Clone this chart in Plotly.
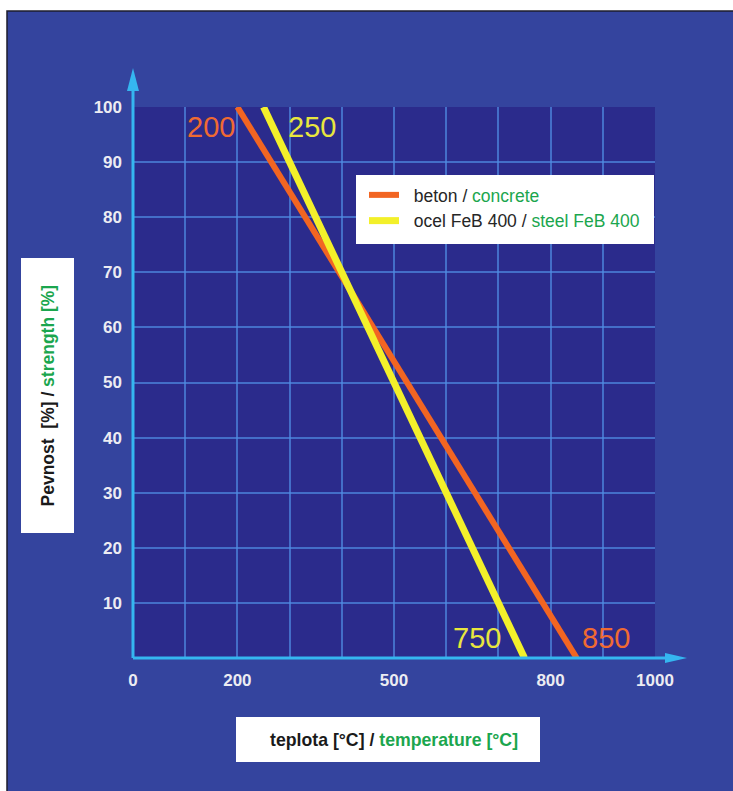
import plotly.graph_objects as go

# Strength loss of concrete and reinforcing steel with temperature
temperature_concrete = [200, 850]
strength_concrete = [100, 0]
temperature_steel = [250, 750]
strength_steel = [100, 0]

x_tick_vals = [0, 100, 200, 300, 400, 500, 600, 700, 800, 900, 1000]
x_tick_labels = ["0", "", "200", "", "", "500", "", "", "800", "", "1000"]
y_tick_vals = [10, 20, 30, 40, 50, 60, 70, 80, 90, 100]
y_tick_labels = ["10", "20", "30", "40", "50", "60", "70", "80", "90", "100"]

W, H = 733, 791
L, R, T, B = 133, 78, 107, 133
PW, PH = W - L - R, H - T - B

ORANGE = "#f26522"
YELLOW = "#f3f02a"
GREEN = "#1ba64e"
AXIS = "#35b6f0"
FONT = "Arial, Liberation Sans, sans-serif"


def px(xp):
    """pixel column -> paper x"""
    return (xp - L) / PW


def py(yp):
    """pixel row -> paper y"""
    return (H - B - yp) / PH


fig = go.Figure()

fig.add_trace(go.Scatter(
    x=temperature_concrete, y=strength_concrete, mode="lines",
    line=dict(color=ORANGE, width=6),
    name=f"&nbsp;&nbsp;beton / <span style='color:{GREEN}'>concrete</span>",
    legendgroup="a",
))
fig.add_trace(go.Scatter(
    x=temperature_steel, y=strength_steel, mode="lines",
    line=dict(color=YELLOW, width=7),
    name=f"&nbsp;&nbsp;ocel FeB 400 / <span style='color:{GREEN}'>steel FeB 400</span>",
    legendgroup="b",
))


def tri(points):
    p = [f"{px(a):.5f} {py(b):.5f}" for a, b in points]
    return "M " + " L ".join(p) + " Z"


shapes = [
    # outer blue panel
    dict(type="rect", xref="paper", yref="paper", layer="below",
         x0=px(7), x1=px(745), y0=py(800), y1=py(11),
         fillcolor="#34449e", line=dict(color="#1c1c2c", width=1.5)),
    # plot area
    dict(type="rect", xref="paper", yref="paper", layer="below",
         x0=0, x1=1, y0=0, y1=1, fillcolor="#2b2b8c", line=dict(width=0)),
    # axes with arrows
    dict(type="line", xref="paper", yref="paper", layer="above",
         x0=0, y0=0, x1=0, y1=py(86), line=dict(color=AXIS, width=3)),
    dict(type="path", xref="paper", yref="paper", layer="above",
         path=tri([(127, 91), (133, 68), (139, 91)]),
         fillcolor=AXIS, line=dict(width=0)),
    dict(type="line", xref="paper", yref="paper", layer="above",
         x0=0, y0=0, x1=px(670), y1=0, line=dict(color=AXIS, width=3)),
    dict(type="path", xref="paper", yref="paper", layer="above",
         path=tri([(665, 653), (687, 658), (665, 663)]),
         fillcolor=AXIS, line=dict(width=0)),
    # white boxes behind legend and axis titles
    dict(type="rect", xref="paper", yref="paper", layer="above",
         x0=px(356), x1=px(654), y0=py(244), y1=py(175),
         fillcolor="white", line=dict(width=0)),
    dict(type="rect", xref="paper", yref="paper", layer="above",
         x0=px(21), x1=px(74), y0=py(533), y1=py(258),
         fillcolor="white", line=dict(width=0)),
    dict(type="rect", xref="paper", yref="paper", layer="above",
         x0=px(236), x1=px(540), y0=py(762), y1=py(717),
         fillcolor="white", line=dict(width=0)),
]

label_font = dict(family=FONT, size=29)
annotations = [
    dict(x=temperature_concrete[0], y=strength_concrete[0], text=str(temperature_concrete[0]),
         showarrow=False, xanchor="right", yanchor="middle", xshift=0, yshift=-20,
         font=dict(label_font, color="#f06a32")),
    dict(x=temperature_steel[0], y=strength_steel[0], text=str(temperature_steel[0]),
         showarrow=False, xanchor="left", yanchor="middle", xshift=22, yshift=-20,
         font=dict(label_font, color="#e8e63e")),
    dict(x=temperature_steel[1], y=strength_steel[1], text=str(temperature_steel[1]),
         showarrow=False, xanchor="right", yanchor="middle", xshift=-22, yshift=20,
         font=dict(label_font, color="#e8e63e")),
    dict(x=temperature_concrete[1], y=strength_concrete[1], text=str(temperature_concrete[1]),
         showarrow=False, xanchor="left", yanchor="middle", xshift=3, yshift=20,
         font=dict(label_font, color="#f06a32")),
    # axis titles
    dict(xref="paper", yref="paper", x=px(47.5), y=py(396), textangle=-90, showarrow=False,
         xanchor="center", yanchor="middle",
         text=f"<b>Pevnost&nbsp; [%] / <span style='color:{GREEN}'>strength [%]</span></b>",
         font=dict(family=FONT, size=17.5, color="#1a1a1a")),
    dict(xref="paper", yref="paper", x=px(393.5), y=py(739.5), showarrow=False,
         xanchor="center", yanchor="middle",
         text=f"<b>teplota [°C] / <span style='color:{GREEN}'>temperature [°C]</span></b>",
         font=dict(family=FONT, size=17.7, color="#1a1a1a")),
]

tick_font = dict(family=FONT, size=17, color="#ececf2", weight="bold")
grid_color = "rgba(80,140,225,0.7)"

fig.update_layout(
    width=W, height=H,
    margin=dict(l=L, r=R, t=T, b=B),
    paper_bgcolor="white",
    plot_bgcolor="rgba(0,0,0,0)",
    shapes=shapes,
    annotations=annotations,
    showlegend=True,
    legend=dict(x=px(364), y=py(177), xanchor="left", yanchor="top",
                bgcolor="rgba(0,0,0,0)", borderwidth=0,
                font=dict(family=FONT, size=17.5, color="#262626"),
                traceorder="grouped", tracegroupgap=0, itemwidth=30),
    xaxis=dict(range=[0, 1000], tickmode="array", tickvals=x_tick_vals, ticktext=x_tick_labels,
               showgrid=True, gridcolor=grid_color, gridwidth=1.5, zeroline=False,
               showline=False, ticks="", ticklabelstandoff=10, tickfont=tick_font,
               fixedrange=True),
    yaxis=dict(range=[0, 100], tickmode="array", tickvals=y_tick_vals, ticktext=y_tick_labels,
               showgrid=True, gridcolor=grid_color, gridwidth=1.5, zeroline=False,
               showline=False, ticks="", ticklabelstandoff=10, tickfont=tick_font,
               fixedrange=True),
)

fig.write_html("out.html")
